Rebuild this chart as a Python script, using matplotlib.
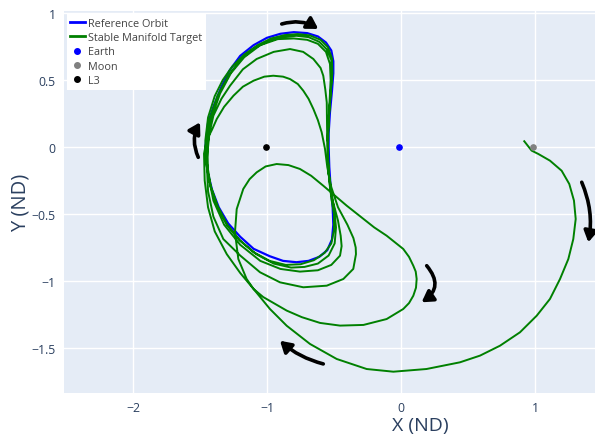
import matplotlib
matplotlib.use("Agg")
import matplotlib.pyplot as plt
from matplotlib.lines import Line2D
from matplotlib.patches import FancyArrowPatch

plt.rcParams.update({"font.family": ["Open Sans", "DejaVu Sans"]})
INK = "#2a3f5f"; BG = "#E5ECF6"

# reference L3 Lyapunov orbit (closed)
orbit_x = [-1.46, -1.44, -1.40, -1.34, -1.28, -1.20, -1.10, -1.00, -0.90, -0.80, -0.70,
           -0.62, -0.56, -0.52, -0.505, -0.505, -0.515, -0.53, -0.54, -0.54, -0.535,
           -0.525, -0.51, -0.505, -0.515, -0.55, -0.61, -0.69, -0.78, -0.88, -0.98,
           -1.10, -1.20, -1.29, -1.36, -1.41, -1.445, -1.46]
orbit_y = [0.00, 0.18, 0.30, 0.45, 0.57, 0.68, 0.76, 0.815, 0.845, 0.857, 0.85,
           0.825, 0.78, 0.72, 0.64, 0.55, 0.42, 0.26, 0.10, 0.00, -0.15,
           -0.30, -0.45, -0.58, -0.69, -0.77, -0.82, -0.85, -0.86, -0.85, -0.815,
           -0.76, -0.67, -0.57, -0.45, -0.32, -0.18, 0.00]

# stable manifold trajectory, from the Moon inwards
man_x = [0.92, 0.975, 1.025, 1.112, 1.199, 1.256, 1.291, 1.304, 1.286, 1.249, 1.187,
         1.112, 1.013, 0.888, 0.739, 0.59, 0.44, 0.19, -0.057, -0.256, -0.48, -0.679,
         -0.853, -0.978, -1.10,
         # up through the interior loop
         -1.152, -1.214, -1.239, -1.226, -1.177, -1.13, -1.077, -1.01, -0.928, -0.84,
         -0.754, -0.67, -0.58, -0.405, -0.28, -0.20, -0.107, 0.017, 0.06, 0.092, 0.11,
         0.117, 0.112, 0.092, 0.06, 0.017, -0.107, -0.28, -0.455, -0.604, -0.74,
         -0.853, -1.028, -1.10,
         # back up the left side, first top pass
         -1.20, -1.30, -1.39, -1.44, -1.465, -1.47, -1.45, -1.41, -1.375, -1.32, -1.25,
         -1.18, -1.10, -1.02, -0.953, -0.88, -0.828, -0.77, -0.729, -0.69, -0.654, -0.62,
         -0.592, -0.567,
         # loop out to x=-0.33
         -0.55, -0.52, -0.47, -0.40, -0.355, -0.338, -0.336, -0.356, -0.43, -0.554,
         -0.729, -0.903, -1.052, -1.20, -1.326, -1.40, -1.44, -1.45, -1.43,
         # top 0.73
         -1.40, -1.34, -1.276, -1.18, -1.077, -0.95, -0.828, -0.73, -0.654, -0.60, -0.58,
         -0.565, -0.554, -0.55,
         # bottom -0.93
         -0.54, -0.51, -0.47, -0.45, -0.443, -0.455, -0.52, -0.62, -0.754, -0.90, -1.05,
         -1.20, -1.32, -1.40, -1.44, -1.445,
         # top 0.81
         -1.42, -1.35, -1.27, -1.17, -1.05, -0.92, -0.80, -0.70, -0.62, -0.56, -0.53,
         -0.525, -0.535, -0.545, -0.545, -0.53, -0.50, -0.485, -0.495, -0.54, -0.62,
         -0.72, -0.82, -0.95, -1.08, -1.20, -1.30, -1.37, -1.42, -1.45, -1.45,
         # top 0.83
         -1.43, -1.37, -1.29, -1.20, -1.10, -0.99, -0.88, -0.78, -0.69, -0.61, -0.555,
         -0.52, -0.515, -0.525, -0.54, -0.545, -0.54, -0.52, -0.50, -0.50, -0.52, -0.57,
         -0.65, -0.75, -0.86, -0.98, -1.10, -1.21, -1.30, -1.37, -1.42, -1.455, -1.46,
         # last pass, hugging the orbit
         -1.44, -1.39, -1.33, -1.26, -1.17, -1.07, -0.97, -0.87, -0.77, -0.68, -0.60,
         -0.545, -0.515, -0.512, -0.525, -0.54, -0.548]
man_y = [0.043, -0.027, -0.052, -0.102, -0.177, -0.276, -0.40, -0.537, -0.687, -0.836,
         -0.985, -1.134, -1.259, -1.383, -1.483, -1.557, -1.607, -1.657, -1.677, -1.657,
         -1.582, -1.47, -1.334, -1.209, -1.06,
         -0.985, -0.836, -0.637, -0.463, -0.313, -0.24, -0.189, -0.145, -0.127, -0.135,
         -0.164, -0.215, -0.289, -0.438, -0.537, -0.60, -0.662, -0.761, -0.82, -0.886, -0.93,
         -0.985, -1.05, -1.11, -1.165, -1.209, -1.284, -1.328, -1.333, -1.313, -1.27,
         -1.221, -1.12, -1.06,
         -0.94, -0.80, -0.63, -0.45, -0.25, -0.05, 0.05, 0.13, 0.209, 0.30, 0.383,
         0.45, 0.495, 0.525, 0.532, 0.525, 0.507, 0.47, 0.42, 0.36, 0.284, 0.20,
         0.11, -0.015,
         -0.15, -0.30, -0.45, -0.58, -0.68, -0.75, -0.80, -0.91, -0.985, -1.035,
         -1.047, -1.01, -0.935, -0.81, -0.687, -0.52, -0.33, -0.10, 0.10,
         0.234, 0.36, 0.457, 0.58, 0.657, 0.71, 0.731, 0.71, 0.657, 0.59, 0.532,
         0.43, 0.333, 0.01,
         -0.20, -0.40, -0.55, -0.662, -0.74, -0.811, -0.88, -0.92, -0.93, -0.91, -0.85,
         -0.73, -0.58, -0.40, -0.20, 0.00,
         0.20, 0.40, 0.55, 0.67, 0.76, 0.805, 0.81, 0.80, 0.77, 0.71, 0.62,
         0.50, 0.30, 0.10, -0.10, -0.30, -0.45, -0.60, -0.72, -0.81, -0.87,
         -0.895, -0.90, -0.87, -0.80, -0.70, -0.58, -0.44, -0.29, -0.11, 0.05,
         0.20, 0.38, 0.53, 0.65, 0.735, 0.79, 0.82, 0.83, 0.82, 0.785, 0.73,
         0.65, 0.55, 0.40, 0.20, 0.00, -0.20, -0.38, -0.50, -0.62, -0.72, -0.79,
         -0.845, -0.875, -0.88, -0.85, -0.785, -0.69, -0.575, -0.44, -0.30, -0.12, 0.05,
         0.22, 0.38, 0.50, 0.60, 0.69, 0.76, 0.81, 0.835, 0.843, 0.833, 0.80,
         0.745, 0.66, 0.55, 0.40, 0.20, 0.05]

bodies = ["Earth", "Moon", "L3"]
body_x = [-0.012, 0.988, -1.005]
body_y = [0.0, 0.0, 0.0]
body_col = ["blue", "gray", "black"]

# direction-of-motion arrows: (x0, y0, x1, y1, curvature)
arrows = [(-0.89, 0.918, -0.617, 0.881, -0.22),
          (-1.513, -0.077, -1.50, 0.184, -0.25),
          (1.349, -0.263, 1.398, -0.711, -0.15),
          (0.192, -0.886, 0.154, -1.159, -0.55),
          (-0.58, -1.619, -0.903, -1.446, -0.12)]

fig = plt.figure(figsize=(5.95, 4.35), dpi=100)
ax = fig.add_axes([64 / 595, 41 / 435, 531 / 595, 382 / 435])
ax.set_facecolor(BG)

ax.plot(orbit_x, orbit_y, color="blue", lw=1.6, zorder=3)
ax.plot(man_x, man_y, color="green", lw=1.4, zorder=4)
for name, bx, by, c in zip(bodies, body_x, body_y, body_col):
    ax.plot(bx, by, "o", ms=3.8, color=c, zorder=5)

for x0, y0, x1, y1, rad in arrows:
    ax.add_patch(FancyArrowPatch((x0, y0), (x1, y1), connectionstyle=f"arc3,rad={rad}",
                                 arrowstyle="-|>,head_length=0.5,head_width=0.3",
                                 mutation_scale=13, color="black", lw=2.6,
                                 shrinkA=0, shrinkB=0, zorder=6))

ax.set_xlim(-2.515, 1.448); ax.set_ylim(-1.836, 1.015)
ax.set_xticks([-2, -1, 0, 1]); ax.set_yticks([-1.5, -1, -0.5, 0, 0.5, 1])
ax.set_xticklabels(["\u22122", "\u22121", "0", "1"])
ax.set_yticklabels(["\u22121.5", "\u22121", "\u22120.5", "0", "0.5", "1"])
ax.grid(color="white", lw=1.0); ax.set_axisbelow(True)
for s in ax.spines.values():
    s.set_visible(False)
ax.tick_params(length=0, labelsize=8.8, labelcolor=INK, pad=6)
# plotly figure was wider than the crop, so the x title sits right of centre
ax.set_xlabel("X (ND)", fontsize=14, color=INK)
ax.xaxis.set_label_coords((420 - 64) / 531, -0.061)
ax.set_ylabel("Y (ND)", fontsize=14.5, color=INK)
ax.yaxis.set_label_coords(-0.0625, 0.5)

handles = [Line2D([], [], color="blue", lw=2),
           Line2D([], [], color="green", lw=2)]
handles += [Line2D([], [], ls="", marker="o", ms=4, color=c) for c in body_col]
leg = ax.legend(handles, ["Reference Orbit", "Stable Manifold Target"] + bodies,
                loc="upper left", bbox_to_anchor=(0.005, 0.992), fontsize=7.8,
                frameon=True, fancybox=False, framealpha=1, edgecolor="none",
                facecolor="white", handlelength=1.3, handletextpad=0.35,
                labelspacing=0.3, borderpad=0.35, borderaxespad=0)
for t in leg.get_texts():
    t.set_color("#444444")

fig.savefig("out.png", dpi=100, facecolor="white")
